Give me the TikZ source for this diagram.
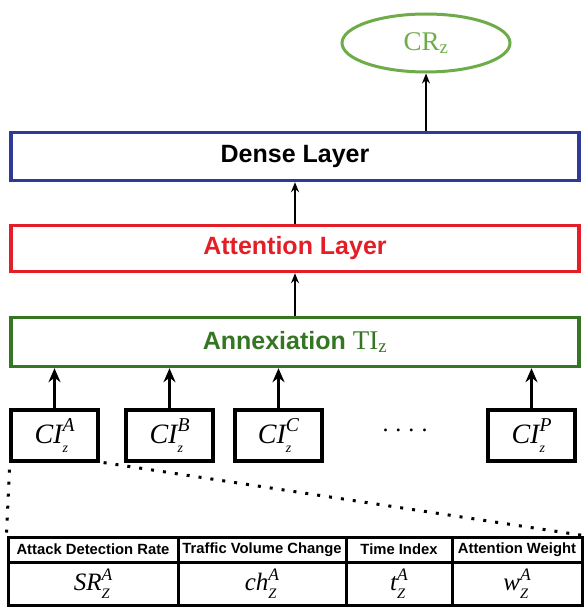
\documentclass[tikz,border=0pt]{standalone}
\usepackage{fontspec}
\setmainfont{Liberation Serif}
\setsansfont{Liberation Sans}
\usetikzlibrary{arrows.meta,shapes.geometric}

\definecolor{crgreen}{RGB}{110,172,74}
\definecolor{denseblue}{RGB}{46,58,150}
\definecolor{attred}{RGB}{228,30,38}
\definecolor{annexgreen}{RGB}{52,118,36}

% italic symbol with a lowered subscript and a raised superscript
\newcommand\symss[4][0.58]{{\itshape #2\rlap{\raisebox{-0.3em}{\scalebox{#1}{#3}}}%
  \raisebox{0.42em}{\scalebox{0.7}{#4}}}}

\tikzset{
  layer/.style={draw, line width=3.4pt, minimum width=568pt, inner sep=0pt,
    font=\sffamily\bfseries\fontsize{25}{29}\selectfont},
  cibox/.style={draw=black, line width=3.2pt, minimum width=87pt, minimum height=51pt,
    inner sep=0pt, font=\fontsize{28}{32}\selectfont},
  headcell/.style={draw=black, line width=3pt, minimum height=25pt, inner sep=0pt,
    font=\sffamily\bfseries\fontsize{14.8}{16}\selectfont},
  valcell/.style={draw=black, line width=3pt, minimum height=43pt, inner sep=0pt,
    font=\fontsize{25}{28}\selectfont},
  thinarr/.style={line width=1.5pt, -{Stealth[length=10pt,width=8pt]}},
  thickarr/.style={line width=3pt, -{Stealth[length=14pt,width=12pt]}},
  dotline/.style={line width=3pt, dash pattern=on 3pt off 9pt}
}

\begin{document}
\begin{tikzpicture}[x=1pt,y=-1pt]
\useasboundingbox (0,0) rectangle (584,607);

% output ellipse
\node[ellipse, draw=crgreen, line width=3pt, minimum width=168pt, minimum height=58pt,
  text=crgreen, font=\fontsize{27}{30}\selectfont] (cr) at (426,43) {CR\textsubscript{z}};

% stacked layers
\node[layer, draw=denseblue, minimum height=48pt, text=black] (dense) at (295,156.5) {Dense Layer};
\node[layer, draw=attred, minimum height=46pt, text=attred] (att) at (295,248.5) {Attention Layer};
\node[layer, draw=annexgreen, minimum height=49pt, text=annexgreen] (annex) at (295,342)
  {Annexiation {\rmfamily\mdseries\fontsize{27}{30}\selectfont TI\textsubscript{z}}};

\draw[thinarr] (dense.north -| cr.south) -- (cr.south);
\draw[thinarr] (att.north) -- (dense.south);
\draw[thinarr] (annex.north) -- (att.south);

% component inputs
\node[cibox] (ci1) at (54.5,435.5) {\symss[0.5]{CI}{z}{A}};
\node[cibox] (ci2) at (169.5,435.5) {\symss[0.5]{CI}{z}{B}};
\node[cibox] (ci3) at (278.5,435.5) {\symss[0.5]{CI}{z}{C}};
\node[cibox] (ci4) at (531.5,435.5) {\symss[0.5]{CI}{z}{P}};
\node[font=\fontsize{24}{28}\selectfont] (dots) at (405,430)
  {.\hspace{7pt}.\hspace{7pt}.\hspace{7pt}.};

\foreach \c in {ci1,ci2,ci3,ci4}
  \draw[thickarr] (\c.north) -- (\c.north |- annex.south);

% detail table of the first input
\node[headcell, minimum width=170pt] (h1) at (93,549.5) {Attack Detection Rate};
\node[headcell, minimum width=168pt] (h2) at (262,549.5) {Traffic Volume Change};
\node[headcell, minimum width=106pt] (h3) at (399,549.5) {Time Index};
\node[headcell, minimum width=130pt] (h4) at (517,549.5) {Attention Weight};
\node[valcell, minimum width=170pt] (v1) at (93,583.5) {\symss{SR}{Z}{A}};
\node[valcell, minimum width=168pt] (v2) at (262,583.5) {\symss{ch}{Z}{A}};
\node[valcell, minimum width=106pt] (v3) at (399,583.5) {\symss{t}{Z}{A}};
\node[valcell, minimum width=130pt] (v4) at (517,583.5) {\symss{w}{Z}{A}};

\draw[dotline] ([yshift=-7pt]ci1.south west) -- (h1.north west);
\draw[dotline] ([xshift=4pt]ci1.south east) -- (h4.north east);
\end{tikzpicture}
\end{document}
